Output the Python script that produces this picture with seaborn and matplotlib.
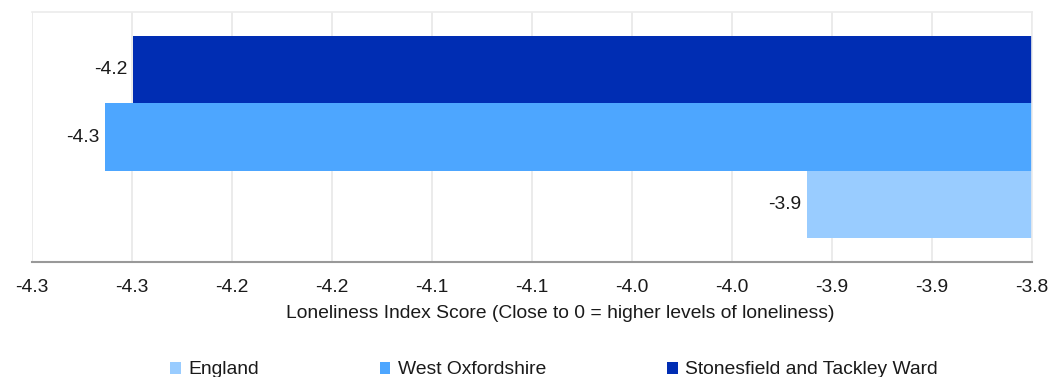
import matplotlib
matplotlib.use("Agg")
import matplotlib.pyplot as plt
import seaborn as sns
import pandas as pd
from matplotlib.patches import Patch

# ---- data ----
areas = ["Stonesfield and Tackley Ward", "West Oxfordshire", "England"]
scores = [-4.2495, -4.2635, -3.9125]
legend_order = ["England", "West Oxfordshire", "Stonesfield and Tackley Ward"]
tick_values = [-4.30, -4.25, -4.20, -4.15, -4.10, -4.05, -4.00, -3.95, -3.90, -3.85, -3.80]
tick_labels = ["-4.3", "-4.3", "-4.2", "-4.2", "-4.1", "-4.1", "-4.0", "-4.0", "-3.9", "-3.9", "-3.8"]
x_title = "Loneliness Index Score (Close to 0 = higher levels of loneliness)"

colors = {"England": "#99ccff", "West Oxfordshire": "#4da6ff",
          "Stonesfield and Tackley Ward": "#002db3"}

sns.set_style("white")
plt.rcParams["font.family"] = ["Liberation Sans", "DejaVu Sans"]
FS = 13.9
TXT = "#1a1a1a"

df = pd.DataFrame({"area": areas, "score": scores})

W, H = 1061, 377
fig = plt.figure(figsize=(W / 100, H / 100), dpi=100)
ax = fig.add_axes([32 / W, (H - 262) / H, 1000 / W, 250 / H])

sns.barplot(data=df, y="area", x="score", hue="area", order=areas, hue_order=areas,
            palette=colors, dodge=False, width=1.0, orient="h", ax=ax,
            legend=False, saturation=1, linewidth=0)

ax.set_xlim(-4.30, -3.80)
ax.set_ylim(2.857, -0.857)

for cont in ax.containers:
    ax.bar_label(cont, fmt="%.1f", padding=4, fontsize=FS, color=TXT)

ax.set_xticks(tick_values)
ax.set_xticklabels(tick_labels, fontsize=FS, color=TXT)
ax.set_yticks([])
ax.set_ylabel("")
ax.set_xlabel(x_title, fontsize=FS, color=TXT)
ax.xaxis.set_label_coords(0.528, -0.204)
ax.xaxis.label.set_verticalalignment("center")
ax.tick_params(axis="x", direction="out", length=6, width=1.2, color="#999999", pad=6)

ax.grid(axis="x", color="#e8e8e8", linewidth=1.2)
ax.set_axisbelow(True)
for s in ["top", "right"]:
    ax.spines[s].set_color("#ebebeb")
    ax.spines[s].set_linewidth(1.2)
    ax.spines[s].set_visible(True)
ax.spines["left"].set_visible(False)
ax.spines["bottom"].set_color("#999999")
ax.spines["bottom"].set_linewidth(1.5)

handles = [Patch(facecolor=colors[n], edgecolor="none", label=n) for n in legend_order]
fig.legend(handles=handles, loc="center", bbox_to_anchor=(554 / W, (H - 370) / H), ncol=3,
           frameon=False, fontsize=FS, handlelength=0.55, handleheight=0.6,
           handletextpad=0.4, columnspacing=6.25, labelcolor=TXT)

fig.savefig("out.png", dpi=100)
